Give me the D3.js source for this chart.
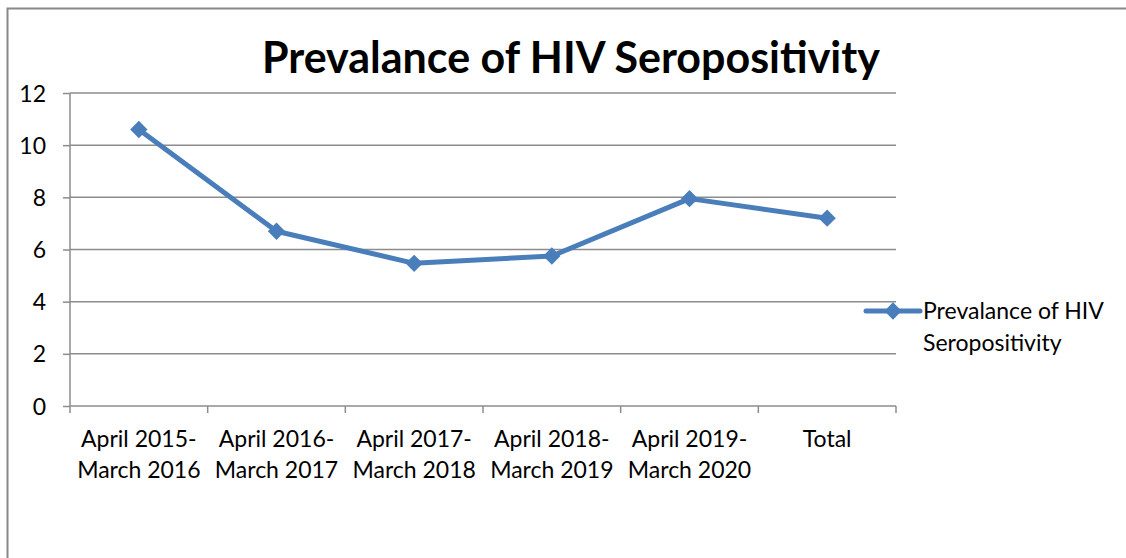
<!DOCTYPE html>
<html>
<head>
<meta charset="utf-8">
<script src="https://cdn.jsdelivr.net/npm/d3@7"></script>
<style>
	body { margin: 0; background: #fff; }
	text { font-family: Lato, "Open Sans", sans-serif; fill: #000; }
</style>
</head>
<body>
<div id="chart"></div>
<script>
var periods = [
	["April 2015-", "March 2016"],
	["April 2016-", "March 2017"],
	["April 2017-", "March 2018"],
	["April 2018-", "March 2019"],
	["April 2019-", "March 2020"],
	["Total"]
];
var prevalence = [10.6, 6.7, 5.47, 5.75, 7.95, 7.2];
var yTicks = [0, 2, 4, 6, 8, 10, 12];
var seriesName = ["Prevalance of HIV", "Seropositivity"];
var chartTitle = "Prevalance of HIV Seropositivity";

var W = 1126, H = 558;
var margin = {left: 70, top: 93, right: 230, bottom: 152};
var width = W - margin.left - margin.right,
	height = H - margin.top - margin.bottom;
var lineColor = "#4a7ebb",
	gridColor = "#8c8c8c";

var svg = d3.select("#chart")
	.append("svg")
	.attr("width", W)
	.attr("height", H)
;

// outer chart frame (right and bottom fall off the picture)
svg.append("rect")
	.attr("x", 7.5)
	.attr("y", 8.5)
	.attr("width", W + 20)
	.attr("height", H + 20)
	.attr("fill", "none")
	.attr("stroke", "#888")
	.attr("stroke-width", 2)
;

var xScale = d3.scaleBand()
	.domain(d3.range(periods.length))
	.range([0, width])
;

var yScale = d3.scaleLinear()
	.domain([0, 12])
	.range([height, 0])
;

var plot = svg.append("g")
	.attr("transform", "translate(" + margin.left + "," + margin.top + ")")
;

plot.selectAll("line.grid")
	.data(yTicks.filter(function(d) { return d > 0; }))
	.enter()
	.append("line")
	.attr("class", "grid")
	.attr("x1", 0)
	.attr("x2", width)
	.attr("y1", function(d) { return yScale(d); })
	.attr("y2", function(d) { return yScale(d); })
	.attr("stroke", gridColor)
	.attr("stroke-width", 1.5)
;

var yAxis = plot.append("g")
	.call(d3.axisLeft(yScale).tickValues(yTicks).tickSize(7).tickPadding(17))
;
yAxis.selectAll("path, line").attr("stroke", gridColor).attr("stroke-width", 1.5);
yAxis.select(".domain").attr("d", "M0," + yScale(12) + "V" + height);
yAxis.selectAll("text")
	.style("font-size", "23px")
	.style("font-family", "Lato, 'Open Sans', sans-serif")
	.attr("fill", "#000")
	.attr("dy", "0.35em")
;

var xAxis = plot.append("g")
	.attr("transform", "translate(0," + height + ")")
;
xAxis.append("line")
	.attr("x1", 0)
	.attr("x2", width)
	.attr("stroke", gridColor)
	.attr("stroke-width", 1.5)
;
xAxis.selectAll("line.tick")
	.data(d3.range(periods.length + 1))
	.enter()
	.append("line")
	.attr("class", "tick")
	.attr("x1", function(d) { return d * xScale.step(); })
	.attr("x2", function(d) { return d * xScale.step(); })
	.attr("y1", 0)
	.attr("y2", 7)
	.attr("stroke", gridColor)
	.attr("stroke-width", 1.5)
;

var xLabels = xAxis.selectAll("text.xLabel")
	.data(periods)
	.enter()
	.append("text")
	.attr("class", "xLabel")
	.attr("text-anchor", "middle")
	.attr("x", function(d, i) { return xScale(i) + xScale.bandwidth() / 2; })
	.attr("y", 41)
	.style("font-size", "23px")
;
xLabels.selectAll("tspan")
	.data(function(d) { return d; })
	.enter()
	.append("tspan")
	.attr("x", function() { return d3.select(this.parentNode).attr("x"); })
	.attr("dy", function(d, i) { return i === 0 ? 0 : 31; })
	.text(function(d) { return d; })
;

var line = d3.line()
	.x(function(d, i) { return xScale(i) + xScale.bandwidth() / 2; })
	.y(function(d) { return yScale(d); })
;

plot.append("path")
	.datum(prevalence)
	.attr("d", line)
	.attr("fill", "none")
	.attr("stroke", lineColor)
	.attr("stroke-width", 5)
	.attr("stroke-linejoin", "round")
;

var diamond = d3.symbol().type(d3.symbolSquare).size(150);

plot.selectAll("path.marker")
	.data(prevalence)
	.enter()
	.append("path")
	.attr("class", "marker")
	.attr("d", diamond)
	.attr("transform", function(d, i) {
		return "translate(" + (xScale(i) + xScale.bandwidth() / 2) + "," + yScale(d) + ") rotate(45)";
	})
	.attr("fill", lineColor)
;

/*
	Title
*/
svg.append("text")
	.attr("x", 571)
	.attr("y", 73)
	.attr("text-anchor", "middle")
	.style("font-size", "43px")
	.style("font-weight", "bold")
	.text(chartTitle)
;

/*
	Legend
*/
var legend = svg.append("g")
	.attr("transform", "translate(866,311)")
;
legend.append("line")
	.attr("x1", 0)
	.attr("x2", 54)
	.attr("stroke", lineColor)
	.attr("stroke-width", 5)
	.attr("stroke-linecap", "round")
;
legend.append("path")
	.attr("d", diamond)
	.attr("transform", "translate(27,0) rotate(45)")
	.attr("fill", lineColor)
;
legend.selectAll("text")
	.data(seriesName)
	.enter()
	.append("text")
	.attr("x", 57)
	.attr("y", function(d, i) { return 8 + i * 32; })
	.style("font-size", "23px")
	.text(function(d) { return d; })
;
</script>
</body>
</html>
